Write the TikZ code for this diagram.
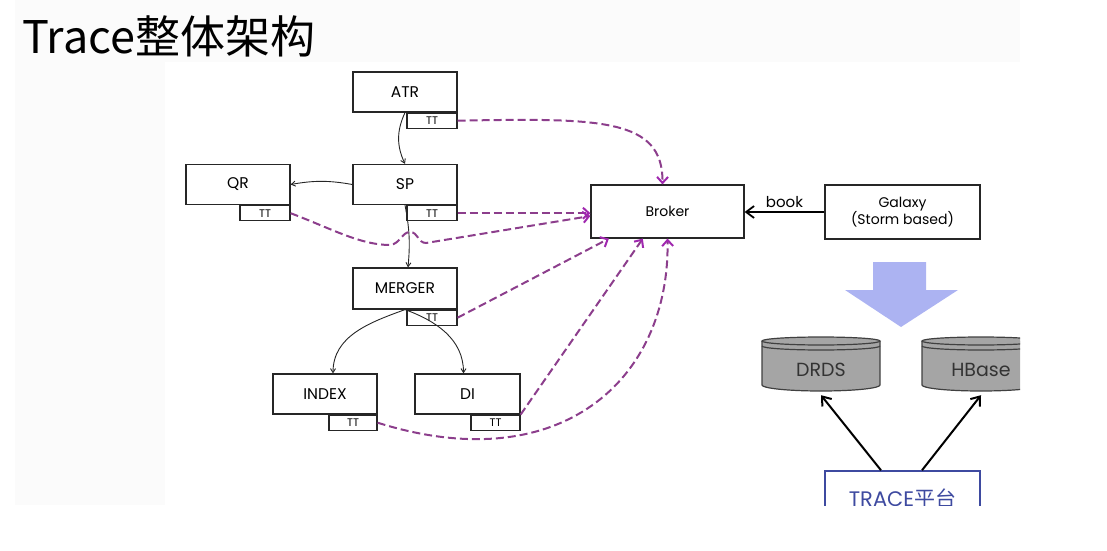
\documentclass[tikz,border=0pt]{standalone}
\usepackage{fontspec}
\setmainfont{Poppins}
\newfontfamily\cjk{Noto Sans CJK SC}
\usetikzlibrary{arrows.meta,calc}
\definecolor{trpurple}{RGB}{140,62,140}
\definecolor{tipmag}{RGB}{160,40,175}
\definecolor{bigarrow}{RGB}{172,179,242}
\definecolor{traceblue}{RGB}{62,74,160}
\definecolor{dbgray}{RGB}{165,165,165}
\definecolor{slidegray}{RGB}{251,251,251}
\begin{document}
\begin{tikzpicture}[x=1pt,y=1pt,
  box/.style={draw=black!85,line width=1.2pt,minimum width=104,minimum height=40,inner sep=0,font=\fontsize{15.5}{17}\selectfont},
  tab/.style={draw=black!85,line width=1.2pt,minimum width=50,minimum height=15,inner sep=0,anchor=north east,font=\fontsize{11}{12}\selectfont},
  flow/.style={black!85,line width=0.9pt,-{Straight Barb[length=4pt,width=5pt]}},
  report/.style={trpurple,line width=2pt,dash pattern=on 8pt off 4pt,-{Straight Barb[color=tipmag,length=6pt,width=11pt]}},
  thick arrow/.style={black,line width=1.8pt,-{Straight Barb[length=8pt,width=12pt]}},
  dbline/.style={draw=black!75,line width=1.2pt},
  dbtext/.style={minimum width=118,minimum height=50,inner sep=0,font=\fontsize{19}{21}\selectfont,text=black!80}]
  \useasboundingbox (0,0) rectangle (1107,550);
  \fill[slidegray] (15,488) rectangle (1020,550);
  \fill[slidegray] (15,45) rectangle (165,488);
  \node[anchor=base west,inner sep=0,font=\cjk\fontsize{45}{50}\selectfont] (title) at (22,496) {Trace整体架构};

  \begin{scope}
  \clip (0,45) rectangle (1020,550);
  % trace nodes with their TT tabs
  \node[box] (atr) at (405,458) {ATR};
  \node[tab] (atrtt) at (atr.south east) {TT};
  \node[box] (sp) at (405,365.5) {SP};
  \node[tab] (sptt) at (sp.south east) {TT};
  \node[box] (qr) at (238,365.5) {QR};
  \node[tab] (qrtt) at (qr.south east) {TT};
  \node[box,minimum height=41] (merger) at (405,261.5) {MERGER};
  \node[tab] (mergertt) at (merger.south east) {TT};
  \node[box] (index) at (325,156) {INDEX};
  \node[tab,minimum width=48] (indextt) at (index.south east) {TT};
  \node[box,minimum width=105] (di) at (467.5,156) {DI};
  \node[tab,minimum width=49] (ditt) at (di.south east) {TT};

  \node[box,minimum width=153,minimum height=53,font=\fontsize{14}{16}\selectfont] (broker) at (667.5,338.5) {Broker};
  \node[box,minimum width=155,minimum height=54,align=center,font=\fontsize{14}{17}\selectfont] (galaxy) at (902.5,338) {Galaxy\\(Storm based)};

  % call chain
  \draw[flow] (atr.south) to[bend right=25] (sp.north);
  \draw[flow] (sp.west) to[bend right=10] (qr.east);
  \draw[flow] (sp.south) to[bend left=8] ([xshift=3]merger.north);
  \draw[flow] (merger.south) to[out=-160,in=90] ([xshift=8]index.north);
  \draw[flow] (merger.south) to[out=-20,in=90] ([xshift=-4]di.north);

  % TT reports to broker
  \draw[report] (atrtt.east) .. controls (600,432) and (663,432) .. ([xshift=-5]broker.north);
  \draw[report] (sptt.east) -- (sptt.east -| broker.west);
  \draw[report] (qrtt.east) .. controls (330,322) and (360,305) .. (390,305)
    .. controls (400,306) and (402,318) .. (410,318)
    .. controls (418,318) and (418,307) .. (426,307) -- ([yshift=-4.5]broker.west);
  \draw[report] (mergertt.east) -- ($(broker.south west)!0.12!(broker.south east)$);
  \draw[report] (di.south east) -- ($(broker.south west)!0.34!(broker.south east)$);
  \draw[report] (indextt.east) .. controls (560,70) and (670,170) .. (broker.south);

  \draw[thick arrow] (galaxy.west) -- (galaxy.west -| broker.east) node[midway,above,font=\fontsize{15}{17}\selectfont] {book};

  % storage
  \fill[bigarrow] (873,288) -- (926,288) -- (926,260) -- (958,260) -- (901,223) -- (845,260) -- (873,260) -- cycle;

  \fill[dbgray] (762,209) -- (762,165) arc[start angle=180,end angle=360,x radius=59,y radius=6] -- (880,209) -- cycle;
  \draw[dbline] (762,209) -- (762,165) arc[start angle=180,end angle=360,x radius=59,y radius=6] -- (880,209);
  \filldraw[dbline,fill=dbgray] (821,209) ellipse[x radius=59,y radius=4];
  \draw[dbline] (762,204) arc[start angle=180,end angle=360,x radius=59,y radius=4];
  \node[dbtext] (drds) at (821,180) {DRDS};

  \fill[dbgray] (922,209) -- (922,165) arc[start angle=180,end angle=360,x radius=59,y radius=6] -- (1040,209) -- cycle;
  \draw[dbline] (922,209) -- (922,165) arc[start angle=180,end angle=360,x radius=59,y radius=6] -- (1040,209);
  \filldraw[dbline,fill=dbgray] (981,209) ellipse[x radius=59,y radius=4];
  \draw[dbline] (922,204) arc[start angle=180,end angle=360,x radius=59,y radius=4];
  \node[dbtext] (hbase) at (981,180) {HBase};

  \node[draw=traceblue,line width=1.5pt,minimum width=155,minimum height=54,inner sep=0,text=traceblue,font=\fontsize{21}{24}\selectfont] (trace) at (902.5,52) {TRACE{\cjk 平台}};
  \draw[thick arrow,line width=2pt] ([xshift=-21.5]trace.north) -- (drds.south);
  \draw[thick arrow,line width=2pt] ([xshift=19.5]trace.north) -- (hbase.south);
  \end{scope}
\end{tikzpicture}
\end{document}
